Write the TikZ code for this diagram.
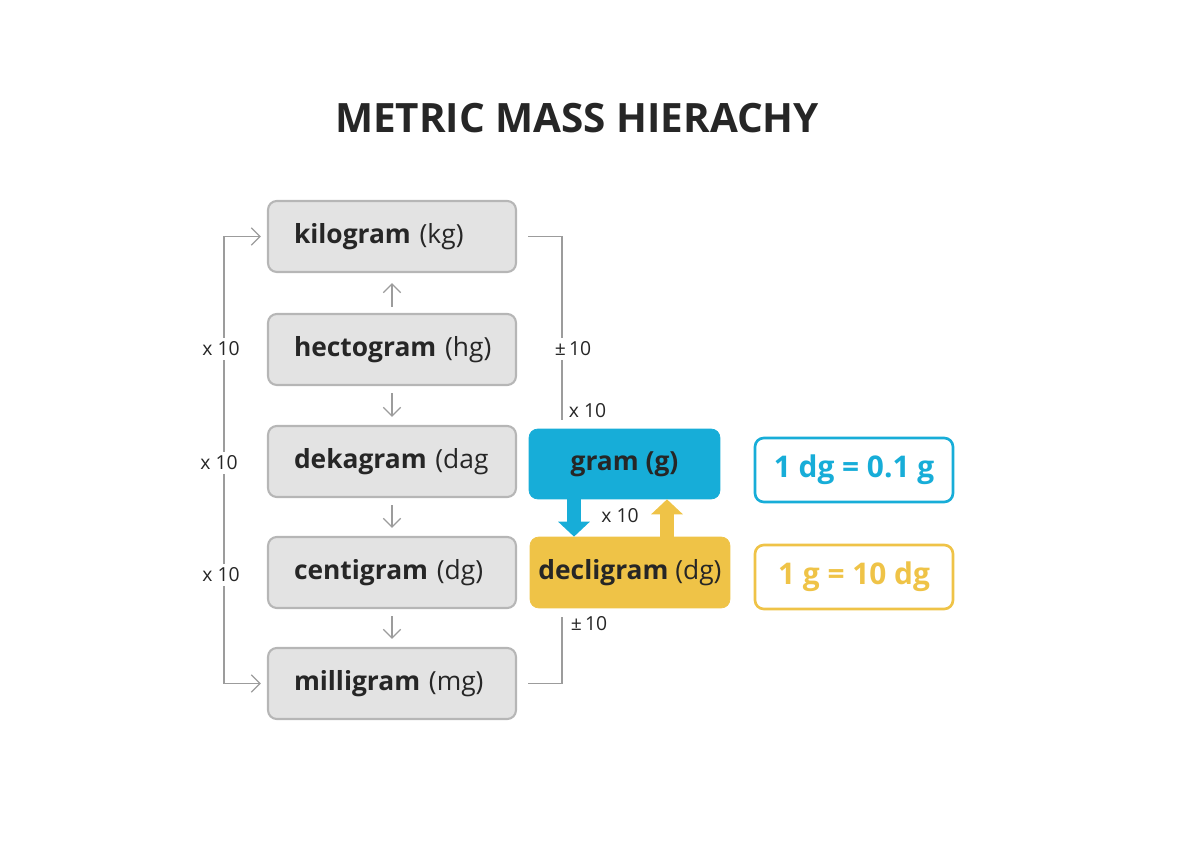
\documentclass[tikz,border=0pt]{standalone}
\usepackage{fontspec}
\setmainfont{Open Sans}
\usetikzlibrary{arrows.meta}
\definecolor{boxfill}{HTML}{E3E3E3}
\definecolor{boxline}{HTML}{B6B6B6}
\definecolor{wire}{HTML}{9C9C9C}
\definecolor{gramblue}{HTML}{17ADD8}
\definecolor{deciyellow}{HTML}{EFC347}
\definecolor{ink}{HTML}{262626}
\tikzset{
	unitbox/.style={draw=boxline, fill=boxfill, line width=1.2pt, rounded corners=5pt,
		text width=3.92cm, inner xsep=0.52cm, minimum height=1.42cm, align=left,
		text=ink, font=\fontsize{15}{18}\selectfont},
	notebox/.style={draw, line width=1.5pt, rounded corners=5pt, fill=white,
		minimum width=3.96cm, minimum height=1.28cm, font=\bfseries\fontsize{17}{20}\selectfont},
	wirearrow/.style={draw=wire, line width=0.7pt, -{Straight Barb[length=5pt,width=10pt]}},
	factor/.style={fill=white, inner sep=2pt, text=ink, font=\fontsize{11}{13}\selectfont}
}
\begin{document}
\begin{tikzpicture}[x=0.02cm, y=-0.02cm]
	\useasboundingbox (0,0) rectangle (1184,864);
	%title
	\node[text=ink, font=\bfseries\fontsize{23}{28}\selectfont] (title) at (577,118) {METRIC MASS HIERACHY};
	%boxes
	\foreach \name/\y/\txt in {
		kilo/236.5/{\textbf{kilogram} (kg)},
		hecto/349.5/{\textbf{hectogram} (hg)},
		deka/461.5/{\textbf{dekagram} (dag},
		centi/572.5/{\textbf{centigram} (dg)},
		milli/683.5/{\textbf{milligram} (mg)}
	}
	\node[unitbox] (\name) at (392,\y) {\mbox{\txt}};
	\node[draw=gramblue, fill=gramblue, rounded corners=5pt, minimum width=3.82cm,
		minimum height=1.4cm, text=ink, font=\bfseries\fontsize{15}{18}\selectfont]
		(gram) at (624.5,464) {gram (g)};
	\node[draw=deciyellow, fill=deciyellow, rounded corners=5pt, minimum width=4cm,
		minimum height=1.42cm, text=ink, font=\fontsize{15}{18}\selectfont]
		(deci) at (630,572.5) {\textbf{decligram} (dg)};
	\node[notebox, draw=gramblue, text=gramblue] (note dg) at (854,470) {1 dg = 0.1 g};
	\node[notebox, draw=deciyellow, text=deciyellow] (note g) at (854,577) {1 g = 10 dg};
	%arrows between boxes
	\draw[wirearrow, shorten <=0.12cm, shorten >=0.2cm] (hecto) -- (kilo);
	\foreach \a/\b in {hecto/deka, deka/centi, centi/milli}
	\draw[wirearrow, shorten <=0.14cm, shorten >=0.16cm] (\a) -- (\b);
	%left bracket
	\draw[wirearrow, {Straight Barb[length=5pt,width=10pt]}-{Straight Barb[length=5pt,width=10pt]},
		shorten <=0.12cm, shorten >=0.12cm]
		(kilo.west) -- ++(-43,0) |- (milli.west);
	\node[factor] (left f1) at (221,349) {x 10};
	\node[factor] (left f2) at (219,463) {x 10};
	\node[factor] (left f3) at (221,575) {x 10};
	%right bracket
	\coordinate (right top) at (562,420);
	\coordinate (right bot) at (562,617);
	\draw[draw=wire, line width=0.7pt, shorten <=0.22cm] (kilo.east) -| (right top);
	\draw[draw=wire, line width=0.7pt, shorten <=0.22cm] (milli.east) -| (right bot);
	\node[factor] (right f1) at (573,349) {±\,10};
	\node[factor, anchor=west, fill=none] (right f2) at (565,411) {x 10};
	\node[factor, anchor=west, fill=none] (right f3) at (567,624) {±\,10};
	%gram and decigram arrows
	\draw[draw=gramblue, line width=0.28cm, -{Triangle[length=0.3cm,width=0.62cm]}]
		(gram.south -| 574,0) -- (deci.north -| 574,0);
	\draw[draw=deciyellow, line width=0.28cm, -{Triangle[length=0.3cm,width=0.62cm]}]
		(deci.north -| 667,0) -- (gram.south -| 667,0);
	\node[factor, fill=none] (mid f) at (620,516) {x 10};
\end{tikzpicture}
\end{document}
